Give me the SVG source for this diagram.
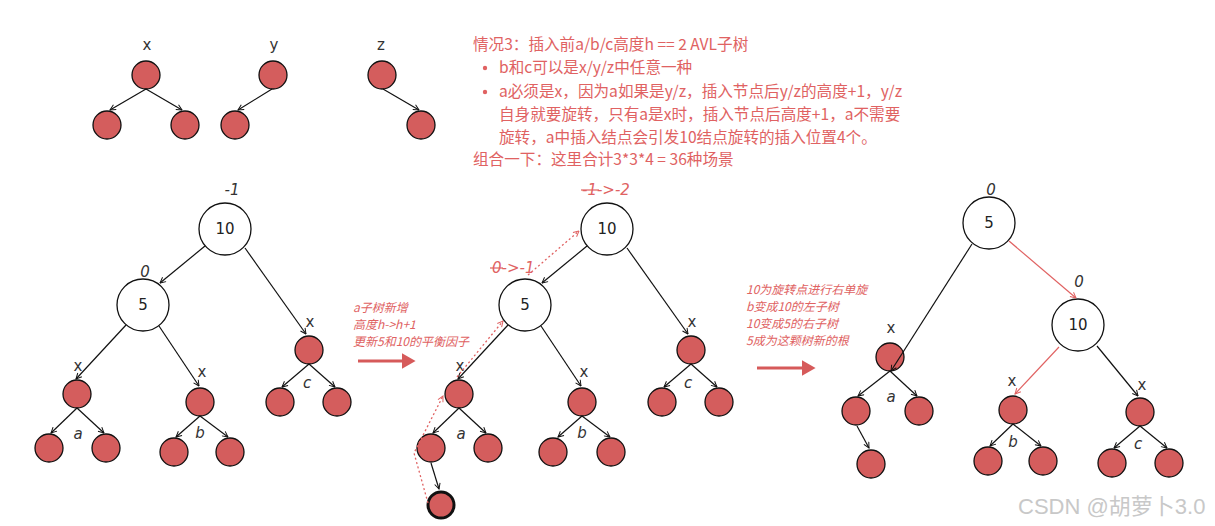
<svg xmlns="http://www.w3.org/2000/svg" width="1215" height="526" viewBox="0 0 1215 526">
<defs>
<marker id="ah" viewBox="0 0 10 10" refX="9" refY="5" markerWidth="7" markerHeight="7" orient="auto" markerUnits="userSpaceOnUse"><path d="M1,1 L9,5 L1,9" fill="none" stroke="#111" stroke-width="1.4"/></marker>
<marker id="ahr" viewBox="0 0 10 10" refX="9" refY="5" markerWidth="7" markerHeight="7" orient="auto" markerUnits="userSpaceOnUse"><path d="M1,1 L9,5 L1,9" fill="none" stroke="#E06262" stroke-width="1.4"/></marker>
<marker id="big" viewBox="0 0 10 10" refX="1" refY="5" markerWidth="14" markerHeight="16" orient="auto" markerUnits="userSpaceOnUse" preserveAspectRatio="none"><path d="M0,0 L10,5 L0,10 Z" fill="#D65A5A"/></marker>
<style>
.leaf{fill:#D45D5D;stroke:#111;stroke-width:1.3}
.big{fill:#fff;stroke:#111;stroke-width:1.3}
.new{fill:#D45D5D;stroke:#111;stroke-width:3}
.e{stroke:#111;stroke-width:1.2;fill:none;marker-end:url(#ah)}
.er{stroke:#E06262;stroke-width:1.2;fill:none;marker-end:url(#ahr)}
.ed{stroke:#E06262;stroke-width:1.3;fill:none;stroke-dasharray:2 2.5;marker-end:url(#ahr)}
.bigar{stroke:#D65A5A;stroke-width:3;marker-end:url(#big)}
.lb{font-family:"DejaVu Sans","Noto Sans",sans-serif;font-size:15px;fill:#333;text-anchor:middle}
.it{font-style:italic}
.num{font-family:"DejaVu Sans","Noto Sans",sans-serif;font-size:15px;fill:#222;text-anchor:middle}
.rt{font-family:"Noto Sans CJK SC","Noto Sans",sans-serif;font-size:15.6px;fill:#E06262}
.ri{font-family:"Noto Sans CJK SC","Noto Sans",sans-serif;font-size:12px;font-style:italic;fill:#E06262}
.rl{font-family:"DejaVu Sans","Noto Sans",sans-serif;font-size:15px;font-style:italic;fill:#E06262}
.strike{stroke:#E06262;stroke-width:1.2}
</style>
</defs>

<!-- top small trees -->
<g id="top-x">
<text class="lb" x="147" y="50">x</text>
<circle class="leaf" cx="146" cy="75" r="14"/>
<circle class="leaf" cx="107" cy="125" r="14"/>
<circle class="leaf" cx="185" cy="125" r="14"/>
</g>
<g id="top-y">
<text class="lb" x="274" y="50">y</text>
<circle class="leaf" cx="273" cy="75" r="14"/>
<circle class="leaf" cx="235" cy="125" r="14"/>
</g>
<g id="top-z">
<text class="lb" x="381" y="50">z</text>
<circle class="leaf" cx="382" cy="75" r="14"/>
<circle class="leaf" cx="421" cy="125" r="14"/>
</g>

<!-- description text -->
<g id="desc">
<text class="rt" x="473" y="50">情况3：插入前a/b/c高度h == 2 AVL子树</text>
<circle cx="485" cy="68" r="2.2" fill="#E06262"/>
<text class="rt" x="499" y="73">b和c可以是x/y/z中任意一种</text>
<circle cx="485" cy="92" r="2.2" fill="#E06262"/>
<text class="rt" x="499" y="97">a必须是x，因为a如果是y/z，插入节点后y/z的高度+1，y/z</text>
<text class="rt" x="499" y="120">自身就要旋转，只有a是x时，插入节点后高度+1，a不需要</text>
<text class="rt" x="499" y="143">旋转，a中插入结点会引发10结点旋转的插入位置4个。</text>
<text class="rt" x="473" y="165">组合一下：这里合计3*3*4 = 36种场景</text>
</g>

<!-- left tree -->
<g id="L-10"><circle class="big" cx="225" cy="229" r="26"/><text class="num" x="225" y="234">10</text><text class="lb it" x="232" y="195">-1</text></g>
<g id="L-5"><circle class="big" cx="143" cy="305" r="26"/><text class="num" x="143" y="310">5</text><text class="lb it" x="145" y="277">0</text></g>
<g id="L-a"><text class="lb" x="78" y="371">x</text><circle class="leaf" cx="77" cy="394" r="14"/><circle class="leaf" cx="49" cy="448" r="14"/><circle class="leaf" cx="106" cy="448" r="14"/><text class="lb it" x="78" y="439">a</text></g>
<g id="L-b"><text class="lb" x="202" y="377">x</text><circle class="leaf" cx="200" cy="402" r="14"/><circle class="leaf" cx="174" cy="452" r="14"/><circle class="leaf" cx="230" cy="452" r="14"/><text class="lb it" x="200" y="438">b</text></g>
<g id="L-c"><text class="lb" x="310" y="327">x</text><circle class="leaf" cx="309" cy="350" r="14"/><circle class="leaf" cx="280" cy="402" r="14"/><circle class="leaf" cx="337" cy="402" r="14"/><text class="lb it" x="307" y="388">c</text></g>

<!-- middle tree -->
<g id="M-10"><circle class="big" cx="607" cy="229" r="26"/><text class="num" x="607" y="234">10</text><text class="rl" x="582" y="195">-1-&gt;-2</text><line class="strike" x1="581" y1="190" x2="599" y2="190"/></g>
<g id="M-5"><circle class="big" cx="525" cy="305" r="26"/><text class="num" x="525" y="310">5</text><text class="rl" x="492" y="273">0-&gt;-1</text><line class="strike" x1="490" y1="268" x2="503" y2="268"/></g>
<g id="M-a"><text class="lb" x="460" y="371">x</text><circle class="leaf" cx="459" cy="394" r="14"/><circle class="leaf" cx="431" cy="448" r="14"/><circle class="leaf" cx="488" cy="448" r="14"/><text class="lb it" x="461" y="439">a</text></g>
<g id="M-new"><circle class="new" cx="441" cy="505" r="13"/></g>
<g id="M-b"><text class="lb" x="584" y="377">x</text><circle class="leaf" cx="582" cy="402" r="14"/><circle class="leaf" cx="553" cy="452" r="14"/><circle class="leaf" cx="611" cy="452" r="14"/><text class="lb it" x="582" y="438">b</text></g>
<g id="M-c"><text class="lb" x="692" y="327">x</text><circle class="leaf" cx="691" cy="350" r="14"/><circle class="leaf" cx="662" cy="402" r="14"/><circle class="leaf" cx="719" cy="402" r="14"/><text class="lb it" x="688" y="388">c</text></g>
<g id="note1">
<text class="ri" x="353" y="312">a子树新增</text>
<text class="ri" x="353" y="329">高度h-&gt;h+1</text>
<text class="ri" x="353" y="346">更新5和10的平衡因子</text>
</g>

<!-- right tree -->
<g id="R-5"><circle class="big" cx="989" cy="223" r="26"/><text class="num" x="989" y="228">5</text><text class="lb it" x="991" y="195">0</text></g>
<g id="R-10"><circle class="big" cx="1078" cy="325" r="26"/><text class="num" x="1078" y="330">10</text><text class="lb it" x="1079" y="287">0</text></g>
<g id="R-a"><text class="lb" x="891" y="333">x</text><circle class="leaf" cx="890" cy="357" r="14"/><circle class="leaf" cx="856" cy="411" r="14"/><circle class="leaf" cx="919" cy="411" r="14"/><text class="lb it" x="891" y="402">a</text></g>
<g id="R-new"><circle class="leaf" cx="871" cy="464" r="14"/></g>
<g id="R-b"><text class="lb" x="1012" y="386">x</text><circle class="leaf" cx="1013" cy="410" r="14"/><circle class="leaf" cx="988" cy="461" r="14"/><circle class="leaf" cx="1043" cy="461" r="14"/><text class="lb it" x="1013" y="447">b</text></g>
<g id="R-c"><text class="lb" x="1142" y="390">x</text><circle class="leaf" cx="1140" cy="412" r="14"/><circle class="leaf" cx="1112" cy="463" r="14"/><circle class="leaf" cx="1169" cy="463" r="14"/><text class="lb it" x="1138" y="449">c</text></g>
<g id="note2">
<text class="ri" x="746" y="294">10为旋转点进行右单旋</text>
<text class="ri" x="746" y="311">b变成10的左子树</text>
<text class="ri" x="746" y="328">10变成5的右子树</text>
<text class="ri" x="746" y="345">5成为这颗树新的根</text>
</g>

<!-- connectors -->
<g id="connectors">
<line class="e" x1="146" y1="89" x2="110" y2="110"/>
<line class="e" x1="146" y1="89" x2="182" y2="110"/>
<line class="e" x1="272" y1="89" x2="238" y2="110"/>
<line class="e" x1="383" y1="89" x2="419" y2="110"/>

<line class="e" x1="205" y1="246" x2="160" y2="283"/>
<line class="e" x1="245" y1="248" x2="306" y2="334"/>
<line class="e" x1="126" y1="325" x2="76" y2="379"/>
<line class="e" x1="159" y1="326" x2="199" y2="386"/>
<line class="e" x1="77" y1="408" x2="51" y2="433"/>
<line class="e" x1="77" y1="408" x2="104" y2="433"/>
<line class="e" x1="200" y1="416" x2="176" y2="437"/>
<line class="e" x1="200" y1="416" x2="228" y2="437"/>
<line class="e" x1="309" y1="364" x2="282" y2="387"/>
<line class="e" x1="309" y1="364" x2="335" y2="387"/>

<line class="e" x1="587" y1="246" x2="542" y2="283"/>
<line class="e" x1="627" y1="248" x2="688" y2="334"/>
<line class="e" x1="508" y1="325" x2="458" y2="379"/>
<line class="e" x1="541" y1="326" x2="581" y2="386"/>
<line class="e" x1="459" y1="408" x2="433" y2="433"/>
<line class="e" x1="459" y1="408" x2="486" y2="433"/>
<line class="e" x1="431" y1="463" x2="439" y2="489"/>
<line class="e" x1="582" y1="416" x2="558" y2="437"/>
<line class="e" x1="582" y1="416" x2="610" y2="437"/>
<line class="e" x1="691" y1="364" x2="664" y2="387"/>
<line class="e" x1="691" y1="364" x2="717" y2="387"/>
<path class="ed" d="M428,503 L414,453 L443,396"/>
<path class="ed" d="M457,377 L503,321"/>
<path class="ed" d="M528,275 L579,231"/>

<line class="e" x1="972" y1="244" x2="891" y2="371"/>
<line class="er" x1="1009" y1="241" x2="1076" y2="298"/>
<line class="er" x1="1059" y1="347" x2="1015" y2="394"/>
<line class="e" x1="1097" y1="346" x2="1138" y2="396"/>
<line class="e" x1="890" y1="371" x2="858" y2="396"/>
<line class="e" x1="890" y1="371" x2="917" y2="396"/>
<line class="e" x1="857" y1="426" x2="869" y2="448"/>
<line class="e" x1="1013" y1="424" x2="990" y2="446"/>
<line class="e" x1="1013" y1="424" x2="1041" y2="446"/>
<line class="e" x1="1140" y1="426" x2="1114" y2="448"/>
<line class="e" x1="1140" y1="426" x2="1167" y2="448"/>

<line class="bigar" x1="358" y1="361" x2="403" y2="361"/>
<line class="bigar" x1="757" y1="368" x2="803" y2="368"/>
</g>

<text x="1018" y="514" font-family="'Liberation Sans','Noto Sans CJK SC',sans-serif" font-size="22" fill="#c8c8c8">CSDN @胡萝卜3.0</text>
</svg>
